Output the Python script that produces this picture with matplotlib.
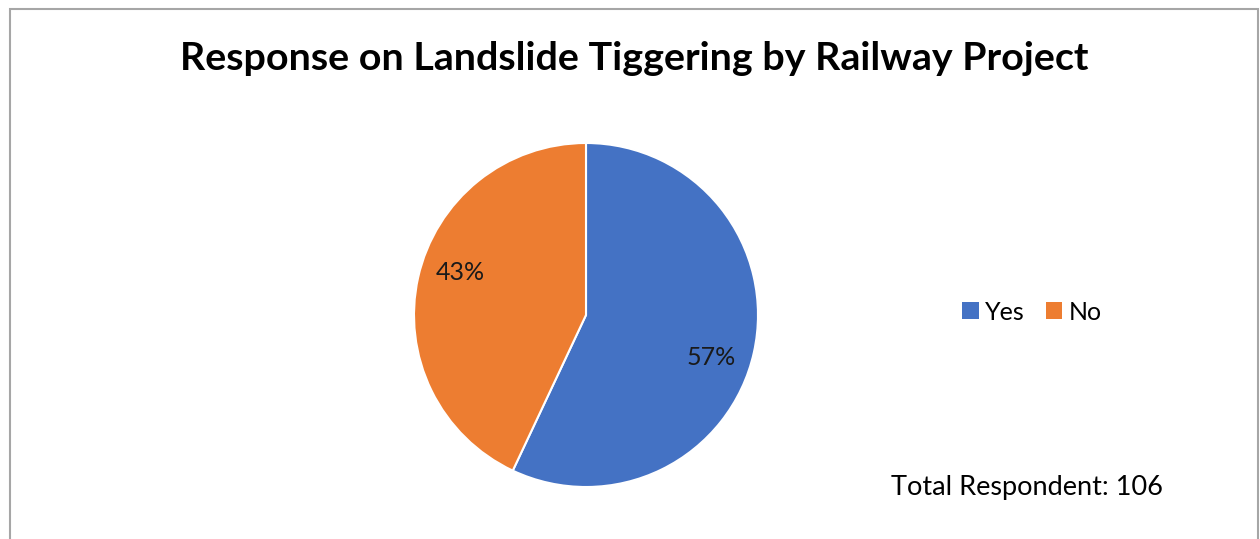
import numpy as np
import matplotlib.pyplot as plt
from matplotlib.patches import Rectangle, Patch

# survey answers
labels = ['Yes', 'No']
shares = [57, 43]
colors = ['#4472C4', '#ED7D31']
total_respondents = 106

W, H = 1260, 539
fig = plt.figure(figsize=(W / 100, H / 100), dpi=100)
plt.rcParams['font.family'] = ['Lato', 'DejaVu Sans']

# chart frame (open at the bottom)
fig.patches.append(Rectangle((10 / W, -0.05), 1248 / W, 1.05 - 9 / H,
                             transform=fig.transFigure, fill=False,
                             edgecolor='#A6A6A6', linewidth=1.5, clip_on=False))

fig.text(634 / W, 1 - 59 / H, 'Response on Landslide Tiggering by Railway Project',
         ha='center', va='center', fontsize=28.4, fontweight='bold')

# pie
cx, cy, r = 586, 315, 172
ax = fig.add_axes([(cx - r) / W, (H - cy - r) / H, 2 * r / W, 2 * r / H])
wedges, texts, autotexts = ax.pie(shares, colors=colors, startangle=90, counterclock=False,
                                  autopct='%1.0f%%', pctdistance=0.77,
                                  wedgeprops=dict(edgecolor='white', linewidth=1.5),
                                  textprops=dict(fontsize=18, color='#1a1a1a'))
# nudge the percentage labels a little clockwise
for w, t in zip(wedges, autotexts):
    ang = np.deg2rad((w.theta1 + w.theta2) / 2 - 6)
    t.set_position((0.77 * np.cos(ang), 0.77 * np.sin(ang)))
ax.set_xlim(-1, 1)
ax.set_ylim(-1, 1)
ax.set_aspect('equal')

handles = [Patch(facecolor=c, label=l) for c, l in zip(colors, labels)]
fig.legend(handles=handles, loc='center', bbox_to_anchor=(1032 / W, 1 - 312 / H),
           ncol=2, frameon=False, fontsize=18, handlelength=0.65, handleheight=0.65,
           handletextpad=0.25, columnspacing=0.85)

fig.text(1027 / W, 1 - 487 / H, f'Total Respondent: {total_respondents}',
         ha='center', va='center', fontsize=19.5)

fig.savefig('out.png', dpi=100)
